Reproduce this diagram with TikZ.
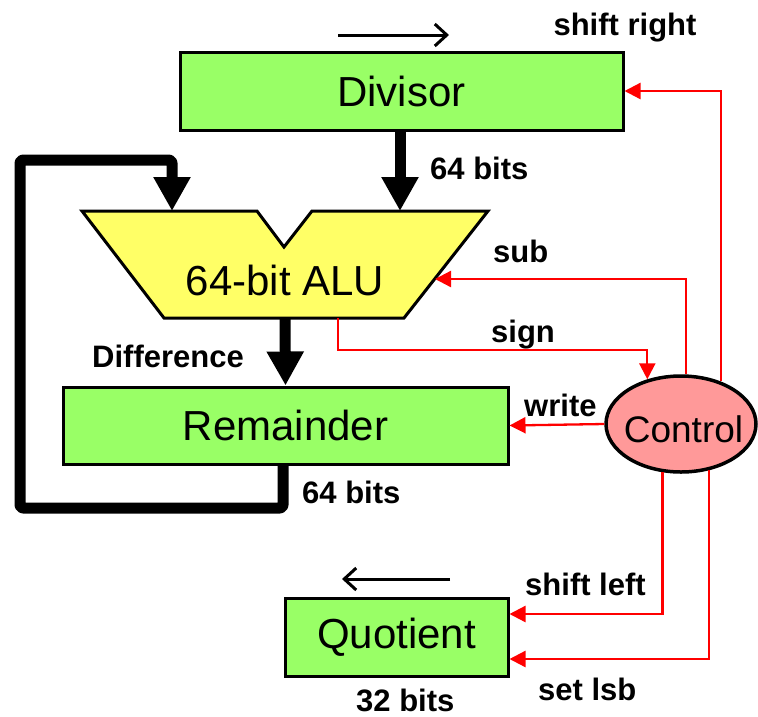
\documentclass[tikz,border=0pt]{standalone}
\usepackage{fontspec}
\setmainfont{Liberation Sans}
\usetikzlibrary{arrows.meta,shapes.geometric,calc}
\definecolor{boxgreen}{HTML}{99FF66}
\definecolor{aluyellow}{HTML}{FFFF66}
\definecolor{ctrlpink}{HTML}{FF9999}
\definecolor{sigred}{HTML}{FF0000}
\tikzset{
  regbox/.style={draw=black, line width=3pt, fill=boxgreen, inner sep=0pt,
    font=\fontsize{42}{48}\selectfont},
  lbl/.style={inner sep=0pt, font=\fontsize{31}{36}\selectfont\bfseries},
  bus/.style={line width=11pt, line join=round, rounded corners=3pt,
    -{Triangle[width=35pt,length=34pt]}},
  ctrlline/.style={draw=sigred, line width=2.3pt,
    -{Triangle[width=16pt,length=16pt]}, sigred},
  shiftarrow/.style={line width=3pt, -{Straight Barb[length=12pt,width=22pt,line width=3pt]}},
}
\begin{document}
\begin{tikzpicture}[x=1pt,y=-1pt]
\useasboundingbox (0,0) rectangle (758,716);
% registers
\node[regbox, minimum width=443pt, minimum height=78pt] (divisor) at (401.5,91) {Divisor};
\node[regbox, minimum width=445pt, minimum height=77pt] (remainder) at (285.5,425.5) {Remainder};
\node[regbox, minimum width=223pt, minimum height=78pt] (quotient) at (396.5,637) {Quotient};
\node[draw=black, line width=3.5pt, fill=ctrlpink, ellipse, inner sep=0pt,
  minimum width=150pt, minimum height=96pt] (control) at (681,424) {};
\node[inner sep=0pt, anchor=base, font=\fontsize{37}{42}\selectfont] (controltext) at (683.5,442) {Control};
% ALU shape
\coordinate (a1) at (82,211);
\coordinate (a2) at (257,211);
\coordinate (a3) at (284,247);
\coordinate (a4) at (312,211);
\coordinate (a5) at (488,211);
\coordinate (a6) at (404,318);
\coordinate (a7) at (164,318);
\draw[line width=3pt, fill=aluyellow, line join=miter] (a1) -- (a2) -- (a3) -- (a4) -- (a5) -- (a6) -- (a7) -- cycle;
\node[inner sep=0pt, font=\fontsize{42}{48}\selectfont] (alu) at (285,280) {64-bit ALU};
\coordinate (aluinL) at (172,211);
\coordinate (aluinR) at (400,211);
\coordinate (aluout) at (285,318);
\coordinate (alusign) at (338,318);
\coordinate (alusub) at (435,279);
% buses
\draw[bus] (aluinR |- divisor.south) -- (aluinR);
\draw[bus] (aluout) -- (remainder.north);
\coordinate (loopL) at (20,508);
\coordinate (loopT) at (20,160);
\draw[bus] ($(remainder.south)+(-2.5,0)$) |- (loopL) -- (loopT) -| (aluinL);
% control lines
\draw[ctrlline] (alusign) |- ++(0,32) -| (control.127);
\draw[ctrlline] (control.84) |- (alusub);
\draw[ctrlline] (control.47) |- (divisor.east);
\draw[ctrlline] (control.west) -- (remainder.east);
\draw[ctrlline] (control.249) |- ($(quotient.east)+(0,-23)$);
\draw[ctrlline] (control.301) |- ($(quotient.east)+(0,22)$);
% shift arrows
\coordinate (srA) at (338,35);
\coordinate (srB) at (449,35);
\draw[shiftarrow] (srA) -- (srB);
\coordinate (slA) at (450,579);
\coordinate (slB) at (342,579);
\draw[shiftarrow] (slA) -- (slB);
% labels
\node[lbl, anchor=base] (lshr) at (625,35) {shift right};
\node[lbl, anchor=base west] (l64a) at (430,179) {64 bits};
\node[lbl, anchor=base west] (lsub) at (493,262) {sub};
\node[lbl, anchor=base west] (lsign) at (491,342) {sign};
\node[lbl, anchor=base west] (lwrite) at (524,416) {write};
\node[lbl, anchor=base west] (ldiff) at (92,367) {Difference};
\node[lbl, anchor=base west] (l64b) at (302,503) {64 bits};
\node[lbl, anchor=base west] (lshl) at (525,595) {shift left};
\node[lbl, anchor=base west] (lset) at (538,700) {set lsb};
\node[lbl, anchor=base west] (l32) at (356,711) {32 bits};
\end{tikzpicture}
\end{document}
